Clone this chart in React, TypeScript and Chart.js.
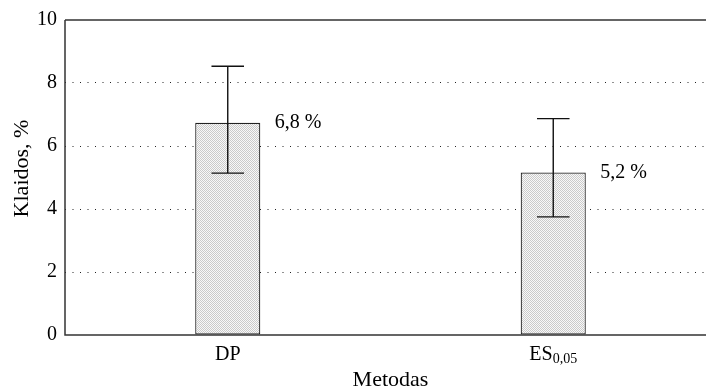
import React, { useEffect, useRef } from "react";
import { Chart, registerables } from "chart.js";

Chart.register(...registerables);

const categoryMain = ["DP", "ES"];
const categorySub = ["", "0,05"];
const values = [6.74, 5.16];
const errLow = [5.14, 3.75];
const errHigh = [8.53, 6.87];
const valueLabels = ["6,8 %", "5,2 %"];
const yTitle = "Klaidos, %";
const xTitle = "Metodas";

const SERIF = "'Liberation Serif', 'Times New Roman', serif";

function makePattern(): CanvasPattern | string {
  const c = document.createElement("canvas");
  c.width = 2;
  c.height = 2;
  const g = c.getContext("2d");
  if (!g) return "#e0e0e0";
  g.fillStyle = "#f8f8f8";
  g.fillRect(0, 0, 2, 2);
  g.fillStyle = "#cacaca";
  g.fillRect(0, 0, 1, 1);
  g.fillRect(1, 1, 1, 1);
  const p = g.createPattern(c, "repeat");
  return p || "#e0e0e0";
}

const overlayPlugin = {
  id: "overlay",
  afterDatasetsDraw(chart: any) {
    const { ctx, chartArea, scales } = chart;
    const xs = scales.x;
    const ys = scales.y;
    const meta = chart.getDatasetMeta(0);
    ctx.save();
    // frame
    ctx.strokeStyle = "#333";
    ctx.lineWidth = 1.5;
    ctx.beginPath();
    ctx.moveTo(chartArea.left, chartArea.top);
    ctx.lineTo(chartArea.right, chartArea.top);
    ctx.moveTo(chartArea.left, chartArea.top);
    ctx.lineTo(chartArea.left, chartArea.bottom);
    ctx.lineTo(chartArea.right, chartArea.bottom);
    ctx.stroke();

    // error bars
    ctx.strokeStyle = "#111";
    ctx.lineWidth = 1.4;
    meta.data.forEach((bar: any, i: number) => {
      const x = bar.x;
      const half = bar.width * 0.25;
      const yHi = ys.getPixelForValue(errHigh[i]);
      const yLo = ys.getPixelForValue(errLow[i]);
      ctx.beginPath();
      ctx.moveTo(x, yHi);
      ctx.lineTo(x, yLo);
      ctx.moveTo(x - half, yHi);
      ctx.lineTo(x + half, yHi);
      ctx.moveTo(x - half, yLo);
      ctx.lineTo(x + half, yLo);
      ctx.stroke();
    });

    // value labels
    ctx.fillStyle = "#000";
    ctx.font = `20px ${SERIF}`;
    ctx.textAlign = "left";
    ctx.textBaseline = "middle";
    meta.data.forEach((bar: any, i: number) => {
      ctx.fillText(valueLabels[i], bar.x + 47, ys.getPixelForValue(values[i]));
    });

    // x tick labels with subscripts
    ctx.textBaseline = "alphabetic";
    categoryMain.forEach((m, i) => {
      const cx = xs.getPixelForValue(i);
      ctx.font = `20px ${SERIF}`;
      const wMain = ctx.measureText(m).width;
      ctx.font = `14px ${SERIF}`;
      const wSub = categorySub[i] ? ctx.measureText(categorySub[i]).width : 0;
      const start = cx - (wMain + wSub) / 2;
      const base = chartArea.bottom + 25;
      ctx.font = `20px ${SERIF}`;
      ctx.fillText(m, start, base);
      if (categorySub[i]) {
        ctx.font = `14px ${SERIF}`;
        ctx.fillText(categorySub[i], start + wMain, base + 3);
      }
    });

    // axis titles
    ctx.font = `22px ${SERIF}`;
    ctx.textAlign = "center";
    ctx.fillText(xTitle, (chartArea.left + chartArea.right) / 2, chartArea.bottom + 51);
    ctx.translate(28, (chartArea.top + chartArea.bottom) / 2 - 9);
    ctx.rotate(-Math.PI / 2);
    ctx.fillText(yTitle, 0, 0);
    ctx.restore();
  },
};

export default function App() {
  const ref = useRef<HTMLCanvasElement | null>(null);

  useEffect(() => {
    if (!ref.current) return;
    const chart = new Chart(ref.current, {
      type: "bar",
      data: {
        labels: categoryMain.map((m, i) => m + categorySub[i]),
        datasets: [
          {
            data: values,
            backgroundColor: makePattern() as any,
            borderColor: "#222",
            borderWidth: 1.2,
            borderSkipped: false,
            barPercentage: 0.2,
            categoryPercentage: 1,
          },
        ],
      },
      options: {
        animation: false,
        responsive: true,
        maintainAspectRatio: false,
        layout: { padding: { top: 18, left: 0, right: 0, bottom: 0 } },
        plugins: { legend: { display: false }, tooltip: { enabled: false } },
        scales: {
          x: {
            offset: true,
            ticks: { display: false },
            grid: { display: false },
            border: { display: false },
            afterFit: (s: any) => {
              s.height = 54;
            },
          },
          y: {
            min: 0,
            max: 10,
            ticks: {
              stepSize: 2,
              padding: 8,
              color: "#000",
              font: { family: SERIF, size: 20 },
            },
            grid: {
              drawTicks: false,
              color: (c: any) =>
                c.tick && (c.tick.value === 0 || c.tick.value === 10) ? "rgba(0,0,0,0)" : "#222",
              lineWidth: 1,
            },
            border: { display: false, dash: [1, 6.5] },
            afterFit: (s: any) => {
              s.width = 65;
            },
          },
        },
      },
      plugins: [overlayPlugin],
    });
    return () => chart.destroy();
  }, []);

  return (
    <div
      style={{
        position: "fixed",
        left: 0,
        top: 0,
        width: 706,
        height: 389,
        overflow: "hidden",
        background: "#fff",
      }}
    >
      <div style={{ position: "relative", width: 716, height: 389 }}>
        <canvas ref={ref} />
      </div>
    </div>
  );
}
